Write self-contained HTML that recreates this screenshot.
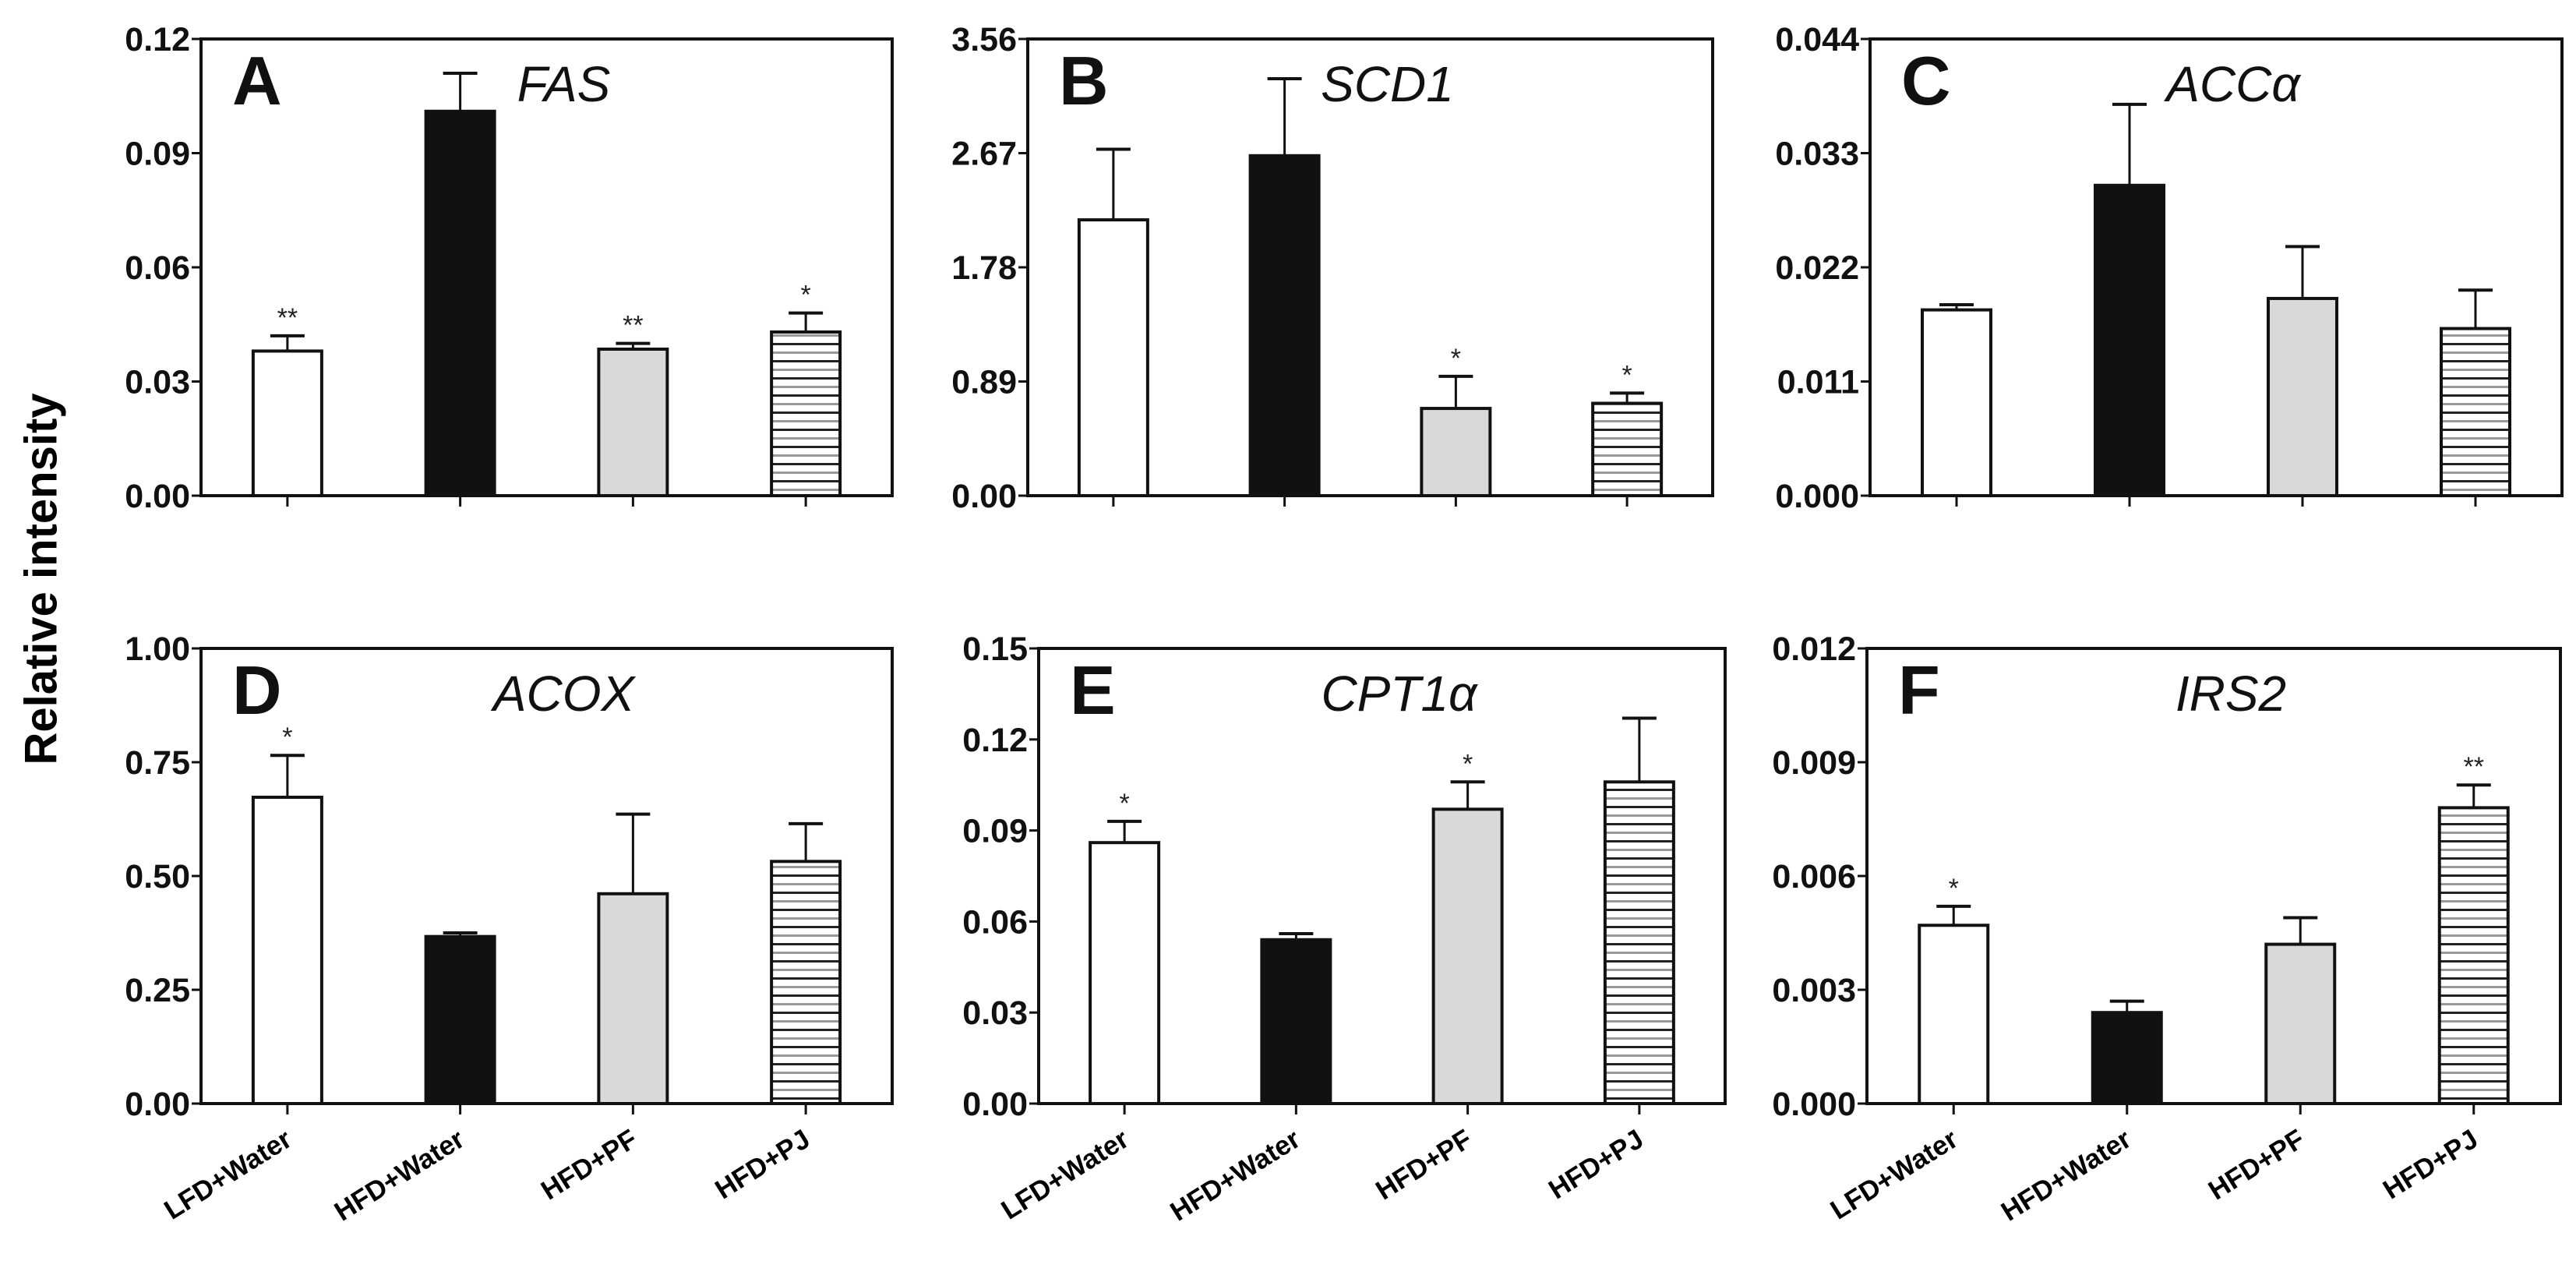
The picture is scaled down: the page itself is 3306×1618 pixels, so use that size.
<!DOCTYPE html>
<html><head><meta charset="utf-8"><style>
html,body{margin:0;padding:0;background:#fff;}
svg{display:block;}
text{font-family:"Liberation Sans",Arial,sans-serif;}
</style></head><body>
<svg id="fig" width="3306" height="1618" viewBox="0 0 3306 1618" xmlns="http://www.w3.org/2000/svg">
<defs>
<pattern id="hatch" patternUnits="userSpaceOnUse" width="20" height="22">
<rect width="20" height="22" fill="#fff"/>
<rect y="0" width="20" height="3" fill="#222"/>
<rect y="11" width="20" height="3" fill="#999"/>
</pattern>
</defs>
<text x="57" y="743" transform="rotate(-90 57 743)" text-anchor="middle" dominant-baseline="middle" font-size="58" font-weight="bold">Relative intensity</text>
</svg>
<script>
const categories = ["LFD+Water","HFD+Water","HFD+PF","HFD+PJ"];
const panelLetters = ["A","B","C","D","E","F"];
const geneNames = ["FAS","SCD1","ACCα","ACOX","CPT1α","IRS2"];
const yMaxes = [0.12, 3.56, 0.044, 1.0, 0.15, 0.012];
const tickA = ["0.00","0.03","0.06","0.09","0.12"];
const tickB = ["0.00","0.89","1.78","2.67","3.56"];
const tickC = ["0.000","0.011","0.022","0.033","0.044"];
const tickD = ["0.00","0.25","0.50","0.75","1.00"];
const tickE = ["0.00","0.03","0.06","0.09","0.12","0.15"];
const tickF = ["0.000","0.003","0.006","0.009","0.012"];
const valA = [0.038, 0.101, 0.0385, 0.043];
const errA = [0.042, 0.111, 0.040, 0.048];
const valB = [2.15, 2.65, 0.68, 0.72];
const errB = [2.70, 3.25, 0.93, 0.80];
const valC = [0.0179, 0.0299, 0.0190, 0.0161];
const errC = [0.0184, 0.0377, 0.0240, 0.0198];
const valD = [0.673, 0.367, 0.461, 0.532];
const errD = [0.765, 0.375, 0.636, 0.615];
const valE = [0.086, 0.054, 0.097, 0.106];
const errE = [0.093, 0.056, 0.106, 0.127];
const valF = [0.0047, 0.0024, 0.0042, 0.0078];
const errF = [0.0052, 0.0027, 0.0049, 0.0084];
const starA = ["**","","**","*"];
const starB = ["","","*","*"];
const starC = ["","","",""];
const starD = ["*","","",""];
const starE = ["*","","*",""];
const starF = ["*","","","**"];

const NS="http://www.w3.org/2000/svg";
const svg=document.getElementById('fig');
const boxes=[[258,1145,50,636],[1319,2198,50,636],[2400,3288,50,636],[258,1145,832,1416],[1333,2214,832,1416],[2396,3286,832,1416]];
const ticks=[tickA,tickB,tickC,tickD,tickE,tickF];
const vals=[valA,valB,valC,valD,valE,valF];
const errs=[errA,errB,errC,errD,errE,errF];
const stars=[starA,starB,starC,starD,starE,starF];
const fills=["#fff","#111","#d9d9d9","url(#hatch)"];
function mk(tag,attrs,parent){const e=document.createElementNS(NS,tag);for(const k in attrs)e.setAttribute(k,attrs[k]);(parent||svg).appendChild(e);return e;}
for(let p=0;p<6;p++){
  const [L,R,T,B]=boxes[p];
  const g=mk('g',{});
  
  
  const yS=v=>B-(v/yMaxes[p])*(B-T);
  const slot=(R-L)/4;
  const xC=i=>L+slot*(i+0.5);
  const bw=88;
  // bars
  for(let i=0;i<4;i++){
    const top=yS(vals[p][i]), et=yS(errs[p][i]);
    const eb=mk('line',{x1:xC(i),x2:xC(i),y1:et,y2:top,stroke:'#111','stroke-width':3},g);
    
    
    const cap=mk('line',{x1:xC(i)-22,x2:xC(i)+22,y1:et,y2:et,stroke:'#111','stroke-width':4},g);
    
    
    const r=mk('rect',{x:xC(i)-bw/2,y:top,width:bw,height:B-top,fill:fills[i],stroke:'#111','stroke-width':4},g);
    
    
    if(stars[p][i]){
      const s=mk('text',{x:xC(i),y:et-12,'text-anchor':'middle','font-size':34,fill:'#222'},g);
      s.textContent=stars[p][i];
      
      
    }
    const xt=mk('line',{x1:xC(i),x2:xC(i),y1:B,y2:B+14,stroke:'#111','stroke-width':3},g);
    
    
    if(p>=3){
      const tx=xC(i)+8, ty=B+52;
      const lt=mk('text',{x:tx,y:ty,'text-anchor':'end','font-size':35,'font-weight':'bold',transform:'rotate(-32 '+tx+' '+ty+')'},g);
      lt.textContent=categories[i];
      
      
    }
  }
  // frame
  const fr=mk('rect',{x:L,y:T,width:R-L,height:B-T,fill:'none',stroke:'#111','stroke-width':4},g);
  
  
  // y ticks
  const n=ticks[p].length;
  for(let k=0;k<n;k++){
    const y=B-(k/(n-1))*(B-T);
    const tl=mk('line',{x1:L-12,x2:L,y1:y,y2:y,stroke:'#111','stroke-width':3},g);
    
    
    const t=mk('text',{x:L-14,y:y+15,'text-anchor':'end','font-size':43,'font-weight':'bold',fill:'#111'},g);
    t.textContent=ticks[p][k];
    
    
  }
  const lt=mk('text',{x:L+40,y:T+84,'font-size':88,'font-weight':'bold',fill:'#111'},g);
  lt.textContent=panelLetters[p];
  
  
  const gt=mk('text',{x:(L+R)/2+22,y:T+80,'text-anchor':'middle','font-size':64,'font-style':'italic',fill:'#111'},g);
  gt.textContent=geneNames[p];
  
  
}
</script>
</body></html>
